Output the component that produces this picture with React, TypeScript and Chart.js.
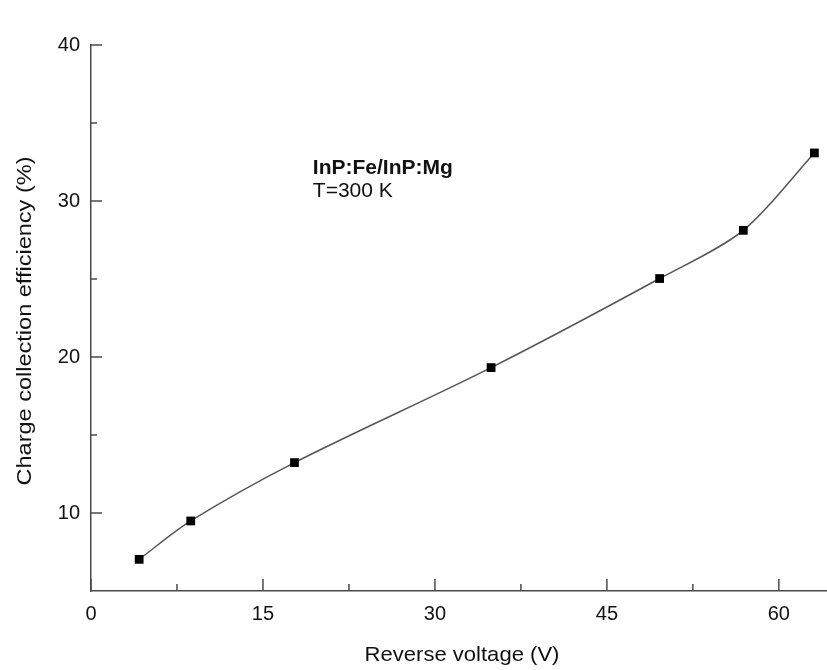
import React, { useEffect, useRef } from "react";
import { Chart, registerables } from "chart.js";

Chart.register(...registerables);

const voltage = [4.2, 8.7, 17.75, 34.9, 49.6, 56.9, 63.1];
const efficiency = [7.03, 9.49, 13.23, 19.32, 25.03, 28.12, 33.08];
const xTicks = [0, 15, 30, 45, 60];
const xMinorTicks = [7.5, 22.5, 37.5, 52.5];
const yTicks = [10, 20, 30, 40];
const yMinorTicks = [35, 25, 15];
const xTitle = "Reverse voltage (V)";
const yTitle = "Charge collection efficiency (%)";
const noteLines = ["InP:Fe/InP:Mg", "T=300 K"];

const FONT = "'Liberation Sans', Arial, Helvetica, sans-serif";
const AXIS_COLOR = "#4a4a4a";
const TEXT_COLOR = "#111";

const decorPlugin = {
  id: "decor",
  afterDraw(chart: any) {
    const { ctx, chartArea, scales } = chart;
    const xs = scales.x;
    const ys = scales.y;
    ctx.save();
    ctx.strokeStyle = AXIS_COLOR;
    ctx.lineWidth = 1.5;
    const drawX = (v: number, len: number) => {
      const px = xs.getPixelForValue(v);
      ctx.beginPath();
      ctx.moveTo(px, chartArea.bottom);
      ctx.lineTo(px, chartArea.bottom - len);
      ctx.stroke();
    };
    const drawY = (v: number, len: number) => {
      const py = ys.getPixelForValue(v);
      ctx.beginPath();
      ctx.moveTo(chartArea.left, py);
      ctx.lineTo(chartArea.left + len, py);
      ctx.stroke();
    };
    xTicks.forEach((v) => drawX(v, 12));
    xMinorTicks.forEach((v) => drawX(v, 7));
    yTicks.forEach((v) => drawY(v, 11));
    yMinorTicks.forEach((v) => drawY(v, 6));

    ctx.fillStyle = TEXT_COLOR;
    ctx.textAlign = "center";
    ctx.textBaseline = "middle";
    ctx.save();
    ctx.translate(462, 655);
    ctx.scale(1.05, 1);
    ctx.font = `21px ${FONT}`;
    ctx.fillText(xTitle, 0, 0);
    ctx.restore();

    ctx.save();
    ctx.translate(25, 321);
    ctx.rotate(-Math.PI / 2);
    ctx.scale(1.12, 1);
    ctx.font = `21px ${FONT}`;
    ctx.fillText(yTitle, 0, 0);
    ctx.restore();

    ctx.textAlign = "left";
    ctx.textBaseline = "alphabetic";
    ctx.font = `bold 21px ${FONT}`;
    const nx = xs.getPixelForValue(19.35);
    ctx.fillText(noteLines[0], nx, ys.getPixelForValue(31.73));
    ctx.font = `21px ${FONT}`;
    ctx.fillText(noteLines[1], nx, ys.getPixelForValue(30.28));
    ctx.restore();
  },
};

export default function App() {
  const ref = useRef<HTMLCanvasElement | null>(null);
  useEffect(() => {
    if (!ref.current) return;
    const chart = new Chart(ref.current, {
      type: "line",
      data: {
        datasets: [
          {
            data: voltage.map((v, i) => ({ x: v, y: efficiency[i] })),
            borderColor: "#555",
            borderWidth: 1.5,
            tension: 0.3,
            pointStyle: "rect",
            pointRadius: 6.2,
            pointBackgroundColor: "#000",
            pointBorderWidth: 0,
            fill: false,
            clip: false,
          },
        ],
      },
      options: {
        responsive: false,
        animation: false,
        layout: { autoPadding: false, padding: { top: 45, right: 0, left: 0, bottom: 0 } },
        plugins: { legend: { display: false }, tooltip: { enabled: false } },
        scales: {
          x: {
            type: "linear",
            min: 0,
            max: 64.2,
            afterFit: (s: any) => {
              s.height = 79;
              s.paddingLeft = 0;
              s.paddingRight = 0;
            },
            afterBuildTicks: (s: any) => {
              s.ticks = xTicks.map((v) => ({ value: v }));
            },
            grid: { display: true, drawOnChartArea: false, drawTicks: false },
            border: { display: true, color: AXIS_COLOR, width: 1.5 },
            ticks: {
              padding: 11,
              color: TEXT_COLOR,
              font: { family: FONT, size: 20 },
              maxRotation: 0,
            },
          },
          y: {
            type: "linear",
            min: 5,
            max: 40,
            afterFit: (s: any) => {
              s.width = 91;
              s.paddingTop = 0;
              s.paddingBottom = 0;
            },
            afterBuildTicks: (s: any) => {
              s.ticks = yTicks.map((v) => ({ value: v }));
            },
            grid: { display: true, drawOnChartArea: false, drawTicks: false },
            border: { display: true, color: AXIS_COLOR, width: 1.5 },
            ticks: {
              padding: 11,
              color: TEXT_COLOR,
              font: { family: FONT, size: 20 },
            },
          },
        },
      },
      plugins: [decorPlugin],
    } as any);
    return () => chart.destroy();
  }, []);
  return (
    <div
      style={{
        position: "fixed",
        left: 0,
        top: 0,
        width: 827,
        height: 670,
        overflow: "hidden",
        background: "#fff",
      }}
    >
      <canvas ref={ref} width={827} height={670} style={{ display: "block", width: 827, height: 670 }} />
    </div>
  );
}
